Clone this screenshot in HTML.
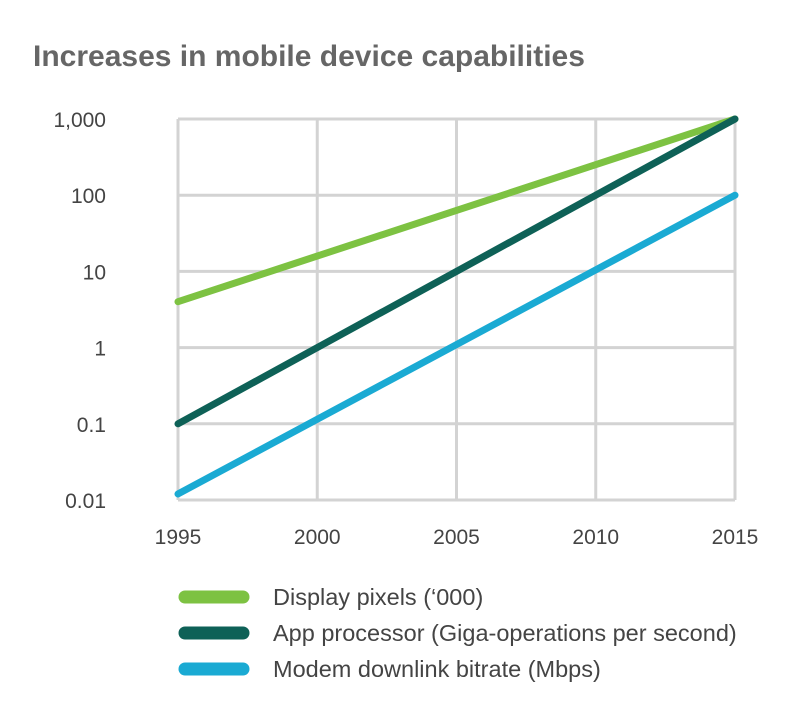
<!DOCTYPE html>
<html><head><meta charset="utf-8"><style>
body{margin:0;background:#fff;}
svg{display:block;font-family:"Liberation Sans",Arial,sans-serif;}
</style></head><body>
<svg id="chart" width="800" height="718">
<text x="33" y="66" font-size="30" font-weight="bold" fill="#666">Increases in mobile device capabilities</text>
<g id="grid"></g><g id="axes"></g><g id="series"></g><g id="legend"></g>
</svg>
<script>
const years=[1995,2000,2005,2010,2015];
const yTicks=[0.01,0.1,1,10,100,1000];
const yTickLabels=["0.01","0.1","1","10","100","1,000"];
const seriesNames=["Display pixels (‘000)","App processor (Giga-operations per second)","Modem downlink bitrate (Mbps)"];
const displayPixels=[4,1000];
const appProcessor=[0.1,1000];
const modemBitrate=[0.012,100];
const seriesYears=[1995,2015];
const colors=["#7dc242","#0e6157","#1aaad3"];
const NS="http://www.w3.org/2000/svg";
const X0=178,X1=735,Y0=500,Y1=119;
const xs=v=>X0+(v-1995)/(2015-1995)*(X1-X0);
const ys=v=>Y0-(Math.log10(v)-(-2))/(3-(-2))*(Y0-Y1);
function mk(t,a,p){const e=document.createElementNS(NS,t);for(const k in a)e.setAttribute(k,a[k]);p.appendChild(e);return e;}
const grid=document.getElementById('grid'),axes=document.getElementById('axes'),ser=document.getElementById('series'),leg=document.getElementById('legend');
years.forEach((y,i)=>{
 const l=mk('line',{x1:xs(y),x2:xs(y),y1:Y1,y2:Y0,stroke:'#d3d3d3','stroke-width':3},grid);
 
 
 const t=mk('text',{x:xs(y),y:544,'text-anchor':'middle','font-size':21,fill:'#444'},axes);
 t.textContent=y;
 
 
});
yTicks.forEach((v,i)=>{
 const l=mk('line',{x1:X0,x2:X1,y1:ys(v),y2:ys(v),stroke:'#d3d3d3','stroke-width':3},grid);
 
 
 const t=mk('text',{x:106,y:ys(v)+8,'text-anchor':'end','font-size':21,fill:'#444'},axes);
 t.textContent=yTickLabels[i];
 
 
});
[displayPixels,appProcessor,modemBitrate].forEach((d,i)=>{
 const pts=d.map((v,j)=>xs(seriesYears[j])+','+ys(v)).join(' ');
 const p=mk('polyline',{points:pts,fill:'none',stroke:colors[i],'stroke-width':7,'stroke-linecap':'round'},ser);
 
 
 const ly=597+i*36;
 const s=mk('line',{x1:185,x2:243,y1:ly,y2:ly,stroke:colors[i],'stroke-width':13,'stroke-linecap':'round'},leg);
 
 
 const t=mk('text',{x:273,y:ly+8,'font-size':23.5,fill:'#444'},leg);
 t.textContent=seriesNames[i];
 
 
});
</script>
</body></html>
